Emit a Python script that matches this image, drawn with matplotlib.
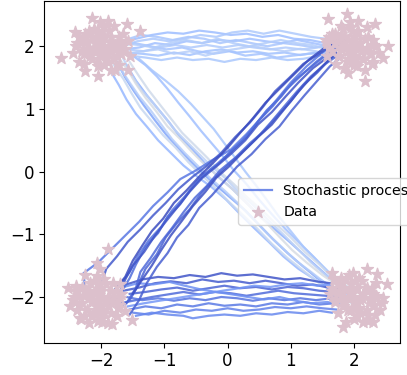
import numpy as np
import matplotlib
matplotlib.use('Agg')
import matplotlib.pyplot as plt

# sample clouds at the four corners
data_tl = [(-1.95, 2.00), (-2.10, 2.05), (-1.80, 1.95), (-2.00, 1.85), (-1.85, 2.15), (-2.20, 1.95),
           (-1.70, 2.05), (-2.05, 2.20), (-1.90, 1.75), (-2.15, 1.80), (-1.75, 1.85), (-2.30, 2.10),
           (-1.62, 1.95), (-1.95, 2.30), (-2.28, 1.88), (-1.65, 2.20), (-2.05, 1.68), (-1.80, 2.32),
           (-2.40, 2.00), (-1.58, 2.08), (-2.15, 2.45), (-1.85, 1.62), (-2.35, 1.75), (-1.55, 1.85),
           (-2.00, 2.10), (-1.90, 1.90), (-2.20, 2.25), (-1.72, 1.70), (-2.42, 2.22), (-1.39, 2.25),
           (-2.64, 1.81), (-1.57, 1.62), (-2.25, 1.61), (-2.05, 1.53), (-1.60, 2.36), (-1.90, 2.40),
           (-2.12, 1.92), (-1.78, 2.02), (-2.02, 1.96), (-2.25, 2.05),
           (-2.35, 2.15), (-2.25, 2.20), (-2.15, 2.15), (-2.05, 2.10), (-1.95, 2.15), (-1.85, 2.05),
           (-1.75, 1.98), (-1.68, 1.88), (-1.80, 1.80), (-1.92, 1.82), (-2.05, 1.80), (-2.18, 1.85),
           (-2.30, 1.92), (-2.38, 2.05), (-2.10, 1.98), (-1.98, 1.92), (-1.88, 1.98), (-2.22, 2.08),
           (-2.12, 2.28), (-1.98, 2.25), (-1.88, 2.25), (-1.72, 2.15), (-2.45, 1.90), (-2.28, 1.72),
           (-1.95, 1.70), (-1.65, 2.02), (-2.02, 2.38), (-1.78, 1.62)]
data_tr = [(1.95, 2.00), (2.10, 2.05), (1.80, 1.95), (2.00, 1.85), (1.85, 2.15), (2.20, 1.95),
           (1.70, 2.05), (2.05, 2.22), (1.90, 1.75), (2.15, 1.80), (1.75, 1.85), (2.30, 2.10),
           (1.60, 1.98), (1.95, 2.30), (2.25, 1.88), (1.65, 2.20), (2.05, 1.68), (1.80, 2.32),
           (2.35, 2.00), (1.55, 2.10), (2.20, 2.30), (1.85, 1.65), (2.30, 1.75), (1.58, 1.85),
           (2.00, 2.10), (1.90, 1.92), (2.12, 1.92), (1.72, 1.72), (1.59, 2.44), (1.89, 2.52),
           (2.06, 2.41), (2.33, 2.36), (2.54, 2.01), (2.46, 1.81), (2.17, 1.45), (1.91, 1.58),
           (2.02, 1.98), (1.82, 2.05), (2.18, 2.12), (1.98, 1.80),
           (1.60, 2.15), (1.70, 2.20), (1.80, 2.15), (1.90, 2.10), (2.00, 2.15), (2.10, 2.05),
           (2.20, 1.98), (2.27, 1.88), (2.15, 1.80), (2.03, 1.82), (1.90, 1.80), (1.77, 1.85),
           (1.65, 1.92), (1.57, 2.05), (1.85, 1.98), (1.97, 1.92), (2.07, 1.98), (1.73, 2.08),
           (1.83, 2.28), (1.97, 2.25), (2.07, 2.25), (2.23, 2.15), (2.40, 1.90), (2.28, 1.72),
           (2.00, 1.70), (2.30, 2.02), (1.93, 2.38), (2.17, 1.62)]
data_bl = [(-2.05, -2.08), (-2.20, -2.00), (-1.90, -2.15), (-2.10, -1.90), (-1.95, -2.25), (-2.30, -2.10),
           (-1.80, -2.00), (-2.15, -2.30), (-2.00, -1.85), (-2.25, -1.88), (-1.85, -1.90), (-2.38, -2.20),
           (-1.72, -2.12), (-2.05, -2.38), (-2.35, -1.98), (-1.75, -2.30), (-2.12, -1.75), (-1.90, -2.42),
           (-2.45, -2.05), (-1.68, -1.95), (-2.20, -2.42), (-1.95, -1.72), (-2.40, -1.82), (-1.70, -1.80),
           (-2.08, -2.15), (-2.00, -2.00), (-2.28, -2.30), (-1.82, -1.78), (-1.90, -1.23), (-2.06, -1.45),
           (-2.53, -1.85), (-1.52, -2.37), (-1.98, -2.40), (-2.02, -1.55), (-2.25, -1.65), (-1.62, -2.22),
           (-2.15, -2.05), (-1.88, -2.05), (-2.00, -2.22), (-2.32, -2.35),
           (-2.40, -1.90), (-2.30, -1.85), (-2.20, -1.90), (-2.10, -1.95), (-2.00, -1.90), (-1.90, -2.00),
           (-1.80, -2.08), (-1.73, -2.18), (-1.85, -2.25), (-1.97, -2.22), (-2.10, -2.25), (-2.23, -2.20),
           (-2.35, -2.12), (-2.43, -2.00), (-2.15, -2.08), (-2.03, -2.12), (-1.93, -2.08), (-2.27, -1.98),
           (-2.17, -1.78), (-2.03, -1.80), (-1.93, -1.80), (-1.77, -1.90), (-2.50, -2.15), (-2.33, -2.33),
           (-2.00, -2.35), (-1.70, -2.02), (-2.07, -1.67), (-1.83, -2.43)]
data_br = [(2.00, -2.00), (2.15, -1.95), (1.85, -2.10), (2.05, -1.85), (1.90, -2.20), (2.25, -2.05),
           (1.75, -1.95), (2.10, -2.25), (1.95, -1.80), (2.20, -1.85), (1.80, -1.85), (2.30, -2.15),
           (1.70, -2.05), (2.00, -2.35), (2.30, -1.95), (1.75, -2.25), (2.08, -1.70), (1.88, -2.40),
           (2.35, -2.00), (1.65, -1.90), (2.15, -2.40), (1.92, -1.65), (2.35, -1.78), (1.68, -1.72),
           (2.05, -2.10), (1.95, -1.95), (2.22, -2.28), (1.80, -1.70), (2.21, -1.55), (2.36, -1.63),
           (2.52, -1.79), (2.46, -2.02), (2.41, -2.21), (2.30, -2.40), (1.83, -2.48), (1.65, -1.61),
           (2.10, -2.05), (1.85, -2.00), (2.00, -2.18), (2.22, -1.90),
           (1.65, -1.85), (1.75, -1.80), (1.85, -1.85), (1.95, -1.90), (2.05, -1.85), (2.15, -1.95),
           (2.25, -2.02), (2.32, -2.12), (2.20, -2.20), (2.08, -2.18), (1.95, -2.20), (1.82, -2.15),
           (1.70, -2.08), (1.62, -1.95), (1.90, -2.02), (2.02, -2.08), (2.12, -2.02), (1.78, -1.92),
           (1.88, -1.72), (2.02, -1.75), (2.12, -1.75), (2.28, -1.85), (2.45, -2.10), (2.33, -2.28),
           (2.05, -2.30), (2.35, -1.98), (1.98, -1.62), (2.22, -2.38)]

# trajectories leaving the bottom-left cloud for the top-right one
paths_up = [
    [(-2.25, -1.90), (-2.28, -1.62), (-2.05, -1.45), (-1.85, -1.25), (-1.62, -1.02), (-1.40, -0.80), (-1.18, -0.55),
     (-0.95, -0.33), (-0.75, -0.12), (-0.50, 0.02), (-0.25, 0.18), (0.05, 0.35), (0.30, 0.60), (0.55, 0.88),
     (0.78, 1.15), (1.00, 1.42), (1.25, 1.68), (1.50, 1.90), (1.70, 2.05)],
    [(-1.85, -2.05), (-1.70, -1.80), (-1.55, -1.60), (-1.42, -1.35), (-1.25, -1.10), (-1.05, -0.88), (-0.88, -0.62),
     (-0.68, -0.40), (-0.48, -0.15), (-0.25, 0.05), (-0.02, 0.25), (0.22, 0.48), (0.42, 0.72), (0.62, 0.98),
     (0.85, 1.20), (1.05, 1.45), (1.30, 1.65), (1.55, 1.85), (1.80, 1.98)],
    [(-1.70, -1.95), (-1.55, -1.70), (-1.45, -1.48), (-1.30, -1.20), (-1.10, -0.98), (-0.95, -0.72), (-0.75, -0.52),
     (-0.58, -0.28), (-0.38, -0.05), (-0.15, 0.12), (0.08, 0.35), (0.30, 0.55), (0.50, 0.82), (0.72, 1.05),
     (0.92, 1.30), (1.15, 1.52), (1.40, 1.75), (1.62, 1.92), (1.85, 2.10)],
    [(-1.60, -2.10), (-1.45, -1.85), (-1.38, -1.60), (-1.22, -1.38), (-1.05, -1.12), (-0.88, -0.90), (-0.70, -0.65),
     (-0.52, -0.42), (-0.32, -0.22), (-0.12, 0.02), (0.12, 0.22), (0.35, 0.45), (0.58, 0.65), (0.80, 0.90),
     (1.00, 1.12), (1.20, 1.38), (1.42, 1.58), (1.62, 1.80), (1.85, 1.95)],
    [(-1.75, -2.20), (-1.55, -2.05), (-1.42, -1.82), (-1.30, -1.55), (-1.12, -1.32), (-0.98, -1.05), (-0.80, -0.82),
     (-0.60, -0.60), (-0.42, -0.35), (-0.22, -0.12), (0.00, 0.10), (0.22, 0.30), (0.45, 0.52), (0.68, 0.78),
     (0.88, 1.02), (1.10, 1.28), (1.32, 1.52), (1.55, 1.72), (1.78, 1.88)],
    [(-1.55, -2.28), (-1.40, -2.05), (-1.28, -1.78), (-1.12, -1.52), (-0.95, -1.30), (-0.80, -1.05), (-0.62, -0.85),
     (-0.45, -0.58), (-0.25, -0.38), (-0.05, -0.15), (0.15, 0.08), (0.38, 0.28), (0.60, 0.52), (0.82, 0.72),
     (1.02, 0.98), (1.22, 1.22), (1.42, 1.45), (1.62, 1.68), (1.82, 1.85)],
    [(-2.00, -1.80), (-1.92, -1.55), (-1.75, -1.35), (-1.58, -1.12), (-1.38, -0.92), (-1.18, -0.70), (-0.98, -0.50),
     (-0.78, -0.28), (-0.55, -0.08), (-0.32, 0.10), (-0.10, 0.30), (0.12, 0.55), (0.35, 0.78), (0.55, 1.02),
     (0.75, 1.28), (0.98, 1.50), (1.20, 1.72), (1.45, 1.88), (1.65, 2.02)],
    [(-1.90, -2.15), (-1.72, -1.98), (-1.62, -1.72), (-1.50, -1.50), (-1.32, -1.28), (-1.15, -1.02), (-0.98, -0.80),
     (-0.78, -0.55), (-0.60, -0.32), (-0.40, -0.10), (-0.18, 0.08), (0.05, 0.28), (0.28, 0.50), (0.48, 0.75),
     (0.70, 0.95), (0.92, 1.20), (1.12, 1.42), (1.35, 1.65), (1.58, 1.82), (1.78, 2.02)],
    [(-1.50, -1.95), (-1.35, -1.72), (-1.20, -1.50), (-1.05, -1.25), (-0.90, -1.02), (-0.72, -0.78), (-0.55, -0.55),
     (-0.35, -0.32), (-0.18, -0.10), (0.02, 0.08), (0.25, 0.32), (0.48, 0.55), (0.70, 0.75), (0.90, 1.00),
     (1.10, 1.25), (1.30, 1.48), (1.50, 1.68), (1.72, 1.90)],
    [(-1.80, -1.90), (-1.62, -1.68), (-1.50, -1.42), (-1.35, -1.18), (-1.20, -0.95), (-1.02, -0.75), (-0.85, -0.50),
     (-0.65, -0.30), (-0.45, -0.08), (-0.22, 0.15), (0.00, 0.38), (0.20, 0.62), (0.40, 0.85), (0.60, 1.10),
     (0.82, 1.32), (1.05, 1.55), (1.28, 1.78), (1.50, 1.95), (1.75, 2.12)],
]

# trajectories from bottom-left to bottom-right
paths_low = [
    [(-1.60, -1.80), (-1.35, -1.72), (-1.10, -1.68), (-0.85, -1.70), (-0.60, -1.65), (-0.35, -1.68), (-0.10, -1.62),
     (0.15, -1.66), (0.40, -1.64), (0.65, -1.68), (0.90, -1.72), (1.15, -1.70), (1.40, -1.75), (1.62, -1.78)],
    [(-1.65, -1.90), (-1.40, -1.85), (-1.15, -1.78), (-0.90, -1.75), (-0.65, -1.78), (-0.40, -1.72), (-0.15, -1.76),
     (0.10, -1.74), (0.35, -1.78), (0.60, -1.74), (0.85, -1.78), (1.10, -1.82), (1.35, -1.80), (1.60, -1.85),
     (1.80, -1.88)],
    [(-1.55, -1.95), (-1.30, -1.92), (-1.05, -1.88), (-0.80, -1.85), (-0.55, -1.90), (-0.30, -1.86), (-0.05, -1.82),
     (0.20, -1.86), (0.45, -1.84), (0.70, -1.88), (0.95, -1.84), (1.20, -1.86), (1.45, -1.90), (1.68, -1.92)],
    [(-1.70, -2.10), (-1.45, -2.05), (-1.20, -2.00), (-0.95, -1.96), (-0.70, -1.92), (-0.45, -1.96), (-0.20, -1.92),
     (0.05, -1.94), (0.30, -1.98), (0.55, -1.94), (0.80, -1.90), (1.05, -1.94), (1.30, -1.96), (1.55, -1.98),
     (1.75, -2.00)],
    [(-1.60, -2.00), (-1.35, -2.05), (-1.10, -2.02), (-0.85, -2.06), (-0.60, -2.02), (-0.35, -2.05), (-0.10, -2.00),
     (0.15, -2.02), (0.40, -2.06), (0.65, -2.02), (0.90, -2.05), (1.15, -2.02), (1.40, -2.05), (1.65, -2.02)],
    [(-1.55, -2.20), (-1.30, -2.15), (-1.05, -2.18), (-0.80, -2.12), (-0.55, -2.15), (-0.30, -2.10), (-0.05, -2.14),
     (0.20, -2.12), (0.45, -2.15), (0.70, -2.10), (0.95, -2.12), (1.20, -2.08), (1.45, -2.12), (1.70, -2.10)],
    [(-1.50, -2.25), (-1.25, -2.28), (-1.00, -2.22), (-0.75, -2.25), (-0.50, -2.20), (-0.25, -2.22), (0.00, -2.18),
     (0.25, -2.22), (0.50, -2.20), (0.75, -2.16), (1.00, -2.18), (1.25, -2.15), (1.50, -2.18), (1.72, -2.20)],
    [(-1.45, -2.30), (-1.20, -2.25), (-0.95, -2.28), (-0.70, -2.30), (-0.55, -2.34), (-0.30, -2.30), (-0.05, -2.28),
     (0.20, -2.30), (0.45, -2.26), (0.70, -2.28), (0.95, -2.24), (1.20, -2.26), (1.45, -2.22), (1.65, -2.25)],
    [(-1.68, -1.85), (-1.42, -1.78), (-1.18, -1.80), (-0.92, -1.76), (-0.68, -1.82), (-0.42, -1.88), (-0.18, -1.92),
     (0.08, -1.96), (0.32, -2.00), (0.58, -2.04), (0.82, -2.00), (1.08, -2.06), (1.32, -2.10), (1.58, -2.08),
     (1.78, -2.12)],
    [(-1.58, -2.15), (-1.32, -2.10), (-1.08, -2.06), (-0.82, -2.02), (-0.58, -1.98), (-0.32, -1.94), (-0.08, -1.90),
     (0.18, -1.86), (0.42, -1.82), (0.68, -1.84), (0.92, -1.80), (1.18, -1.78), (1.42, -1.82), (1.65, -1.80)],
]

# trajectories from top-left to top-right
paths_top = [
    [(-1.70, 2.05), (-1.45, 2.12), (-1.20, 2.18), (-0.95, 2.22), (-0.70, 2.20), (-0.45, 2.25), (-0.20, 2.22),
     (0.05, 2.18), (0.30, 2.20), (0.55, 2.15), (0.80, 2.18), (1.05, 2.12), (1.30, 2.10), (1.55, 2.05)],
    [(-1.65, 1.95), (-1.40, 1.98), (-1.15, 2.05), (-0.90, 2.02), (-0.65, 2.08), (-0.40, 2.05), (-0.15, 2.10),
     (0.10, 2.08), (0.35, 2.12), (0.60, 2.08), (0.85, 2.05), (1.10, 2.10), (1.35, 2.05), (1.60, 2.00)],
    [(-1.60, 1.90), (-1.35, 1.88), (-1.10, 1.85), (-0.85, 1.90), (-0.60, 1.86), (-0.35, 1.92), (-0.10, 1.95),
     (0.15, 1.90), (0.40, 1.92), (0.65, 1.88), (0.90, 1.90), (1.15, 1.86), (1.40, 1.90), (1.62, 1.92)],
    [(-1.72, 2.00), (-1.47, 2.05), (-1.22, 2.00), (-0.97, 1.95), (-0.72, 1.98), (-0.47, 1.92), (-0.22, 1.88),
     (0.03, 1.92), (0.28, 1.85), (0.53, 1.88), (0.78, 1.82), (1.03, 1.85), (1.28, 1.88), (1.53, 1.90)],
    [(-1.62, 2.10), (-1.37, 2.18), (-1.12, 2.15), (-0.87, 2.10), (-0.62, 2.15), (-0.37, 2.12), (-0.12, 2.05),
     (0.13, 2.10), (0.38, 2.05), (0.63, 2.00), (0.88, 2.05), (1.13, 2.02), (1.38, 1.98), (1.60, 2.02)],
    [(-1.55, 1.85), (-1.30, 1.82), (-1.05, 1.78), (-0.80, 1.82), (-0.55, 1.78), (-0.30, 1.80), (-0.05, 1.75),
     (0.20, 1.80), (0.45, 1.78), (0.70, 1.82), (0.95, 1.78), (1.20, 1.80), (1.45, 1.85), (1.65, 1.88)],
    [(-1.68, 2.00), (-1.43, 2.08), (-1.18, 2.12), (-0.93, 2.08), (-0.68, 2.12), (-0.43, 2.18), (-0.18, 2.15),
     (0.07, 2.22), (0.32, 2.25), (0.57, 2.20), (0.82, 2.25), (1.07, 2.20), (1.32, 2.15), (1.55, 2.12)],
    [(-1.58, 1.95), (-1.33, 1.92), (-1.08, 1.98), (-0.83, 2.02), (-0.58, 1.98), (-0.33, 2.02), (-0.08, 1.98),
     (0.17, 2.02), (0.42, 1.98), (0.67, 1.95), (0.92, 1.98), (1.17, 1.95), (1.42, 1.98), (1.65, 2.02)],
    [(-1.66, 2.05), (-1.41, 2.02), (-1.16, 1.98), (-0.91, 2.05), (-0.66, 2.10), (-0.41, 2.05), (-0.16, 2.12),
     (0.09, 2.05), (0.34, 2.00), (0.59, 2.05), (0.84, 2.10), (1.09, 2.05), (1.34, 2.02), (1.58, 1.95)],
    [(-1.60, 1.88), (-1.35, 1.92), (-1.10, 1.95), (-0.85, 1.88), (-0.60, 1.92), (-0.35, 1.85), (-0.10, 1.92),
     (0.15, 1.96), (0.40, 2.00), (0.65, 1.96), (0.90, 1.92), (1.15, 1.96), (1.40, 1.92), (1.62, 1.86)],
]

# trajectories from top-left down to bottom-right
paths_down = [
    [(-1.75, 1.75), (-1.62, 1.50), (-1.48, 1.28), (-1.32, 1.05), (-1.15, 0.82), (-0.98, 0.60), (-0.80, 0.40),
     (-0.60, 0.18), (-0.40, -0.02), (-0.18, -0.22), (0.05, -0.42), (0.28, -0.62), (0.50, -0.85), (0.72, -1.08),
     (0.95, -1.30), (1.18, -1.50), (1.42, -1.70), (1.68, -1.85), (1.90, -1.95)],
    [(-1.60, 1.70), (-1.45, 1.45), (-1.28, 1.22), (-1.10, 1.00), (-0.92, 0.78), (-0.75, 0.55), (-0.55, 0.35),
     (-0.35, 0.12), (-0.15, -0.08), (0.08, -0.28), (0.30, -0.50), (0.52, -0.72), (0.75, -0.92), (0.98, -1.12),
     (1.20, -1.32), (1.42, -1.52), (1.62, -1.70), (1.85, -1.85)],
    [(-1.85, 1.60), (-1.72, 1.38), (-1.60, 1.15), (-1.45, 0.92), (-1.28, 0.72), (-1.10, 0.50), (-0.90, 0.30),
     (-0.70, 0.10), (-0.48, -0.08), (-0.25, -0.25), (-0.02, -0.45), (0.20, -0.68), (0.42, -0.90), (0.65, -1.12),
     (0.88, -1.35), (1.12, -1.55), (1.38, -1.72), (1.62, -1.88), (1.85, -2.00)],
    [(-1.50, 1.85), (-1.30, 1.70), (-1.12, 1.52), (-0.95, 1.32), (-0.78, 1.10), (-0.60, 0.88), (-0.42, 0.65),
     (-0.25, 0.45), (-0.08, 0.25), (0.10, 0.02), (0.30, -0.20), (0.50, -0.45), (0.70, -0.68), (0.92, -0.92),
     (1.15, -1.15), (1.38, -1.38), (1.58, -1.60), (1.80, -1.78)],
    [(-1.40, 1.80), (-1.20, 1.62), (-0.98, 1.45), (-0.78, 1.28), (-0.58, 1.08), (-0.40, 0.88), (-0.22, 0.68),
     (-0.05, 0.45), (0.12, 0.22), (0.28, 0.00), (0.45, -0.22), (0.62, -0.45), (0.80, -0.70), (1.00, -0.95),
     (1.20, -1.20), (1.42, -1.42), (1.62, -1.62), (1.82, -1.80)],
    [(-1.70, 1.65), (-1.55, 1.42), (-1.40, 1.20), (-1.22, 0.98), (-1.05, 0.75), (-0.88, 0.52), (-0.68, 0.30),
     (-0.48, 0.10), (-0.28, -0.10), (-0.05, -0.30), (0.18, -0.52), (0.40, -0.75), (0.62, -0.98), (0.85, -1.20),
     (1.08, -1.42), (1.32, -1.60), (1.55, -1.78), (1.78, -1.92), (2.00, -2.05)],
    [(-1.65, 1.80), (-1.52, 1.55), (-1.38, 1.32), (-1.20, 1.12), (-1.02, 0.90), (-0.85, 0.68), (-0.65, 0.48),
     (-0.45, 0.28), (-0.25, 0.08), (-0.02, -0.12), (0.20, -0.35), (0.42, -0.55), (0.65, -0.78), (0.88, -1.00),
     (1.10, -1.22), (1.32, -1.45), (1.55, -1.65), (1.75, -1.82)],
    [(-1.80, 1.70), (-1.65, 1.48), (-1.52, 1.25), (-1.38, 1.02), (-1.20, 0.80), (-1.02, 0.58), (-0.82, 0.38),
     (-0.62, 0.15), (-0.42, -0.05), (-0.20, -0.25), (0.02, -0.48), (0.25, -0.70), (0.48, -0.92), (0.70, -1.15),
     (0.95, -1.38), (1.20, -1.58), (1.45, -1.78), (1.72, -1.95), (2.05, -2.15), (2.30, -2.40)],
    [(-1.55, 1.75), (-1.40, 1.52), (-1.25, 1.30), (-1.08, 1.08), (-0.90, 0.85), (-0.72, 0.62), (-0.52, 0.42),
     (-0.32, 0.22), (-0.12, 0.00), (0.10, -0.20), (0.32, -0.42), (0.55, -0.62), (0.78, -0.85), (1.00, -1.05),
     (1.22, -1.28), (1.45, -1.48), (1.65, -1.68), (1.88, -1.82)],
    [(-1.75, 1.85), (-1.58, 1.62), (-1.45, 1.40), (-1.30, 1.18), (-1.12, 0.95), (-0.95, 0.72), (-0.75, 0.52),
     (-0.55, 0.30), (-0.35, 0.10), (-0.12, -0.10), (0.12, -0.32), (0.35, -0.55), (0.58, -0.78), (0.80, -1.02),
     (1.02, -1.25), (1.25, -1.45), (1.50, -1.65), (1.72, -1.80)],
]

ticks = [-2, -1, 0, 1, 2]


def draw_group(ax, paths, lo, hi, label=None):
    cmap = plt.get_cmap('coolwarm')
    shades = np.linspace(lo, hi, len(paths))
    for k, p in enumerate(paths):
        xy = np.array(p)
        ax.plot(xy[:, 0], xy[:, 1], color=cmap(shades[k]), lw=1.6, alpha=0.85,
                label=label if k == 0 else None)


def main():
    fig = plt.figure(figsize=(4.07, 3.75), dpi=100)
    ax = fig.add_axes([0.109, 0.086, 0.874, 0.911])

    draw_group(ax, paths_down, 0.22, 0.48)
    draw_group(ax, paths_top, 0.30, 0.37)
    draw_group(ax, paths_low, 0.02, 0.18)
    draw_group(ax, paths_up, 0.10, 0.0, label='Stochastic process')

    pts = np.array(data_tl + data_tr + data_bl + data_br)
    ax.scatter(pts[:, 0], pts[:, 1], marker='*', s=80, color='#dcc0cc', label='Data', zorder=3)

    ax.set_xlim(-2.9, 2.73)
    ax.set_ylim(-2.73, 2.72)
    ax.set_xticks(ticks)
    ax.set_yticks(ticks)
    ax.tick_params(labelsize=12)

    fig.legend(loc='upper left', bbox_to_anchor=(0.585, 0.525), borderaxespad=0, fontsize=10.2)

    fig.savefig('out.png', dpi=100)


if __name__ == '__main__':
    main()
